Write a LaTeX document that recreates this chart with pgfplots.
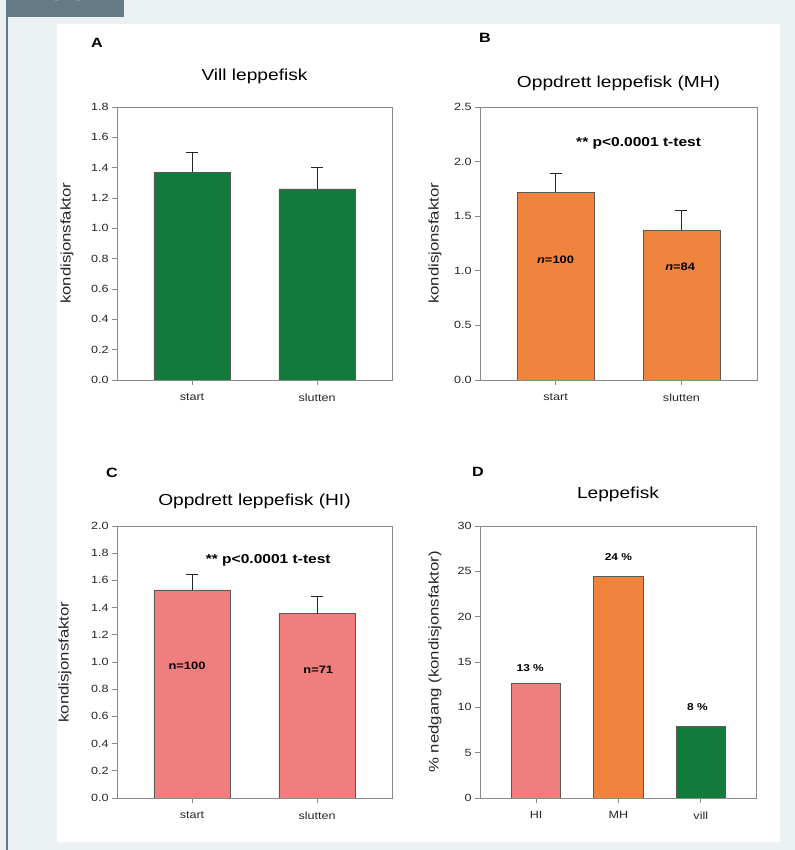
\documentclass[border=0pt]{standalone}
\usepackage{pgfplots}
\pgfplotsset{compat=1.18}
\usepackage{fontspec}
\setmainfont{Liberation Sans}[FakeStretch=1.2]
\definecolor{bggray}{HTML}{EBF0F3}
\definecolor{hdr}{HTML}{647A87}
\definecolor{vgreen}{HTML}{127B3C}
\definecolor{vorange}{HTML}{F0843F}
\definecolor{vpink}{HTML}{F07E7E}
\definecolor{framec}{HTML}{8A8A8A}
\pgfplotsset{
 panel/.style={
  scale only axis, ybar, bar shift=0pt,
  axis line style={framec, line width=0.9bp},
  tick style={framec, line width=0.9bp},
  tick align=outside, major tick length=5bp,
  xtick pos=left, ytick pos=left,
  ticklabel style={font=\fontsize{10.5}{12}\selectfont, text=black!85},
  xticklabel style={yshift=-5bp},
  /pgf/number format/assume math mode=true,
  ymin=0,
  ylabel style={font=\fontsize{14}{16}\selectfont, anchor=center, text=black!85},
  every axis plot/.append style={draw=black!65, line width=0.7bp},
 },
 kfak/.style={
  xtick={0,1}, xticklabels={start,slutten}, xmin=-0.6, xmax=1.6, bar width=0.61,
  ylabel={kondisjonsfaktor},
  yticklabel style={/pgf/number format/.cd, fixed, fixed zerofill, precision=1},
 },
 ebar/.style={
  error bars/.cd, y dir=plus, y explicit,
  error bar style={black!85, line width=0.9bp},
  error mark options={rotate=90, mark size=6bp, black!85, line width=0.9bp},
 },
}
\newcommand{\ttl}{\fontsize{16}{18}\selectfont}
\newcommand{\plet}{\bfseries\fontsize{13.5}{15}\selectfont}
\begin{document}
\begin{tikzpicture}[x=1bp,y=1bp]
\useasboundingbox (0,0) rectangle (795,850);
\fill[bggray] (0,0) rectangle (795,850);
\fill[white] (57,8) rectangle (780,826);
\fill[hdr] (6,832.5) rectangle (124,850);
\fill[hdr] (6,0) rectangle (8,832.5);
\begin{scope}
\clip (6,832.5) rectangle (124,850);
\node[anchor=base west, text=white, font=\bfseries\fontsize{24}{24}\selectfont, inner sep=0] at (20,849.5) {FIGUR 6};
\end{scope}

% Panel A
\node[anchor=base, font=\plet] at (97,802) {A};
\node[anchor=base, font=\ttl] at (254.5,769) {Vill leppefisk};
\begin{axis}[panel, kfak, at={(117bp,470bp)}, anchor=south west, width=275bp, height=273bp,
  ymax=1.8, ytick={0,0.2,...,1.8},
  ylabel style={at={(axis description cs:-0.182,0.5)}}]
\addplot[fill=vgreen, ebar] coordinates {(0,1.37) +- (0,0.13) (1,1.26) +- (0,0.14)};
\end{axis}

% Panel B
\node[anchor=base, font=\plet] at (485,807) {B};
\node[anchor=base, font=\ttl] at (618.5,762) {Oppdrett leppefisk (MH)};
\begin{axis}[panel, kfak, at={(480bp,470bp)}, anchor=south west, width=277bp, height=273bp,
  ymax=2.5, ytick={0,0.5,...,2.5},
  ylabel style={at={(axis description cs:-0.162,0.5)}}]
\addplot[fill=vorange, ebar] coordinates {(0,1.72) +- (0,0.17) (1,1.37) +- (0,0.18)};
\node[font=\bfseries\fontsize{13}{15}\selectfont] at (axis cs:0.66,2.17) {** p<0.0001 t-test};
\node[font=\bfseries\fontsize{10.8}{12}\selectfont] at (axis cs:0,1.10) {\textit{n}=100};
\node[font=\bfseries\fontsize{10.8}{12}\selectfont] at (axis cs:0.99,1.035) {\textit{n}=84};
\end{axis}

% Panel C
\node[anchor=base, font=\plet] at (112,372) {C};
\node[anchor=base, font=\ttl] at (254.5,344) {Oppdrett leppefisk (HI)};
\begin{axis}[panel, kfak, at={(117bp,52bp)}, anchor=south west, width=275bp, height=272bp,
  ymax=2.0, ytick={0,0.2,...,2.0},
  ylabel style={at={(axis description cs:-0.189,0.5)}}]
\addplot[fill=vpink, ebar] coordinates {(0,1.53) +- (0,0.115) (1,1.355) +- (0,0.125)};
\node[font=\bfseries\fontsize{13}{15}\selectfont] at (axis cs:0.61,1.75) {** p<0.0001 t-test};
\node[font=\bfseries\fontsize{10.8}{12}\selectfont] at (axis cs:-0.04,0.97) {n=100};
\node[font=\bfseries\fontsize{10.8}{12}\selectfont] at (axis cs:1.01,0.94) {n=71};
\end{axis}

% Panel D
\node[anchor=base, font=\plet] at (478,373) {D};
\node[anchor=base, font=\ttl] at (618,351) {Leppefisk};
\begin{axis}[panel, at={(480bp,52bp)}, anchor=south west, width=276bp, height=272bp,
  xtick={0,1,2}, xticklabels={HI,MH,vill}, xmin=-0.68, xmax=2.67, bar width=0.6,
  ymax=30, ytick={0,5,...,30},
  ylabel={\% nedgang (kondisjonsfaktor)},
  ylabel style={at={(axis description cs:-0.163,0.5)}}]
\addplot[fill=vpink] coordinates {(0,12.65)};
\addplot[fill=vorange] coordinates {(1,24.5)};
\addplot[fill=vgreen] coordinates {(2,7.94)};
\node[font=\bfseries\fontsize{10}{12}\selectfont] at (axis cs:-0.07,14.3) {13 \%};
\node[font=\bfseries\fontsize{10}{12}\selectfont] at (axis cs:1.0,26.6) {24 \%};
\node[font=\bfseries\fontsize{10}{12}\selectfont] at (axis cs:1.96,10.0) {8 \%};
\end{axis}
\end{tikzpicture}
\end{document}
